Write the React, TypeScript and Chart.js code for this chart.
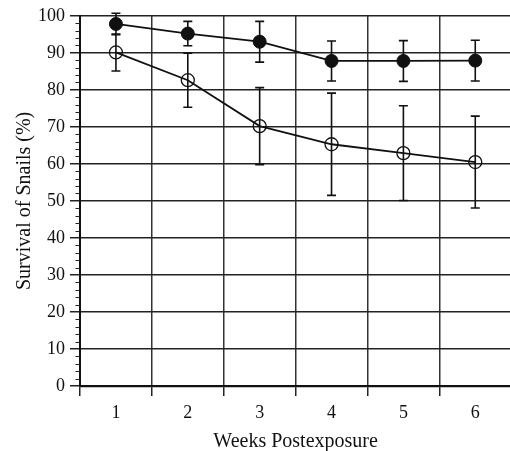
import React, { useEffect, useRef } from "react";
import { Chart, registerables } from "chart.js";

Chart.register(...registerables);

const weeks = ["1", "2", "3", "4", "5", "6"];
const filledMeans = [97.8, 95.2, 93.0, 87.8, 87.8, 87.9];
const filledErrors = [2.9, 3.3, 5.5, 5.4, 5.5, 5.5];
const openMeans = [90.1, 82.6, 70.2, 65.3, 62.9, 60.5];
const openErrors = [5.0, 7.3, 10.4, 13.8, 12.8, 12.4];
const yTicksMin = 0;
const yTicksMax = 100;
const yMajorStep = 10;
const yMinorStep = 2;

const FONT = "'Liberation Serif', 'Times New Roman', serif";

const errorBarPlugin = {
  id: "errorBars",
  afterDatasetsDraw(chart: any) {
    const ctx = chart.ctx;
    const y = chart.scales.y;
    chart.data.datasets.forEach((ds: any, di: number) => {
      const meta = chart.getDatasetMeta(di);
      const errs: number[] = ds.errors || [];
      meta.data.forEach((pt: any, i: number) => {
        const v = ds.data[i];
        const e = errs[i];
        if (e == null) return;
        const x = pt.x;
        const yTop = y.getPixelForValue(v + e);
        const yBot = y.getPixelForValue(v - e);
        ctx.save();
        ctx.strokeStyle = "#111";
        ctx.lineWidth = 1.6;
        ctx.beginPath();
        ctx.moveTo(x, yTop);
        ctx.lineTo(x, yBot);
        ctx.moveTo(x - 4.5, yTop);
        ctx.lineTo(x + 4.5, yTop);
        ctx.moveTo(x - 4.5, yBot);
        ctx.lineTo(x + 4.5, yBot);
        ctx.stroke();
        ctx.restore();
      });
    });
  },
};

const minorTickPlugin = {
  id: "minorTicks",
  afterDraw(chart: any) {
    const ctx = chart.ctx;
    const y = chart.scales.y;
    const xr = y.right;
    ctx.save();
    ctx.strokeStyle = "#222";
    ctx.lineWidth = 1.2;
    ctx.beginPath();
    for (let v = yTicksMin; v <= yTicksMax; v += yMinorStep) {
      if (v % yMajorStep === 0) continue;
      const py = Math.round(y.getPixelForValue(v)) + 0.5;
      ctx.moveTo(xr - 4.5, py);
      ctx.lineTo(xr, py);
    }
    ctx.stroke();
    ctx.restore();
  },
};

export default function App() {
  const ref = useRef<HTMLCanvasElement | null>(null);
  useEffect(() => {
    document.body.style.margin = "0";
    if (!ref.current) return;
    const chart = new Chart(ref.current, {
      type: "line",
      data: {
        labels: weeks,
        datasets: [
          {
            label: "Filled",
            data: filledMeans,
            errors: filledErrors,
            borderColor: "#111",
            backgroundColor: "#111",
            borderWidth: 1.8,
            pointRadius: 6.5,
            pointBorderWidth: 1,
            pointBackgroundColor: "#111",
            pointBorderColor: "#111",
            tension: 0,
          } as any,
          {
            label: "Open",
            data: openMeans,
            errors: openErrors,
            borderColor: "#111",
            backgroundColor: "rgba(0,0,0,0)",
            borderWidth: 1.8,
            pointRadius: 6.5,
            pointBorderWidth: 1.3,
            pointBackgroundColor: "rgba(0,0,0,0)",
            pointBorderColor: "#111",
            tension: 0,
          } as any,
        ],
      },
      options: {
        animation: false,
        responsive: false,
        maintainAspectRatio: false,
        layout: { padding: { top: 14, right: 0, bottom: 0, left: 0 } },
        plugins: {
          legend: { display: false },
          tooltip: { enabled: false },
        },
        scales: {
          x: {
            type: "category",
            offset: true,
            afterFit: (s: any) => {
              s.height = 65;
            },
            grid: {
              offset: true,
              color: "#333",
              lineWidth: 1.5,
              tickLength: 10,
              tickColor: "#222",
            },
            border: { color: "#111", width: 2.2 },
            ticks: {
              color: "#111",
              font: { family: FONT, size: 18 },
              padding: 6,
              maxRotation: 0,
            },
            title: {
              display: true,
              text: "Weeks Postexposure",
              color: "#111",
              font: { family: FONT, size: 20 },
              padding: { top: 0, bottom: -3 },
            },
          },
          y: {
            min: yTicksMin,
            max: yTicksMax,
            afterFit: (s: any) => {
              s.width = 80;
            },
            grid: {
              color: "#222",
              lineWidth: 1.5,
              tickLength: 10,
              tickColor: "#222",
            },
            border: { color: "#111", width: 2 },
            ticks: {
              stepSize: yMajorStep,
              color: "#111",
              font: { family: FONT, size: 18 },
              padding: 5,
            },
            title: {
              display: true,
              text: "Survival of Snails (%)",
              color: "#111",
              font: { family: FONT, size: 20 },
              padding: { top: 13, bottom: 0 },
            },
          },
        },
      },
      plugins: [errorBarPlugin, minorTickPlugin],
    });
    return () => chart.destroy();
  }, []);
  return (
    <div
      style={{
        position: "absolute",
        left: 0,
        top: 0,
        width: 510,
        height: 451,
        overflow: "hidden",
      }}
    >
      <canvas ref={ref} width={519} height={451} />
    </div>
  );
}
